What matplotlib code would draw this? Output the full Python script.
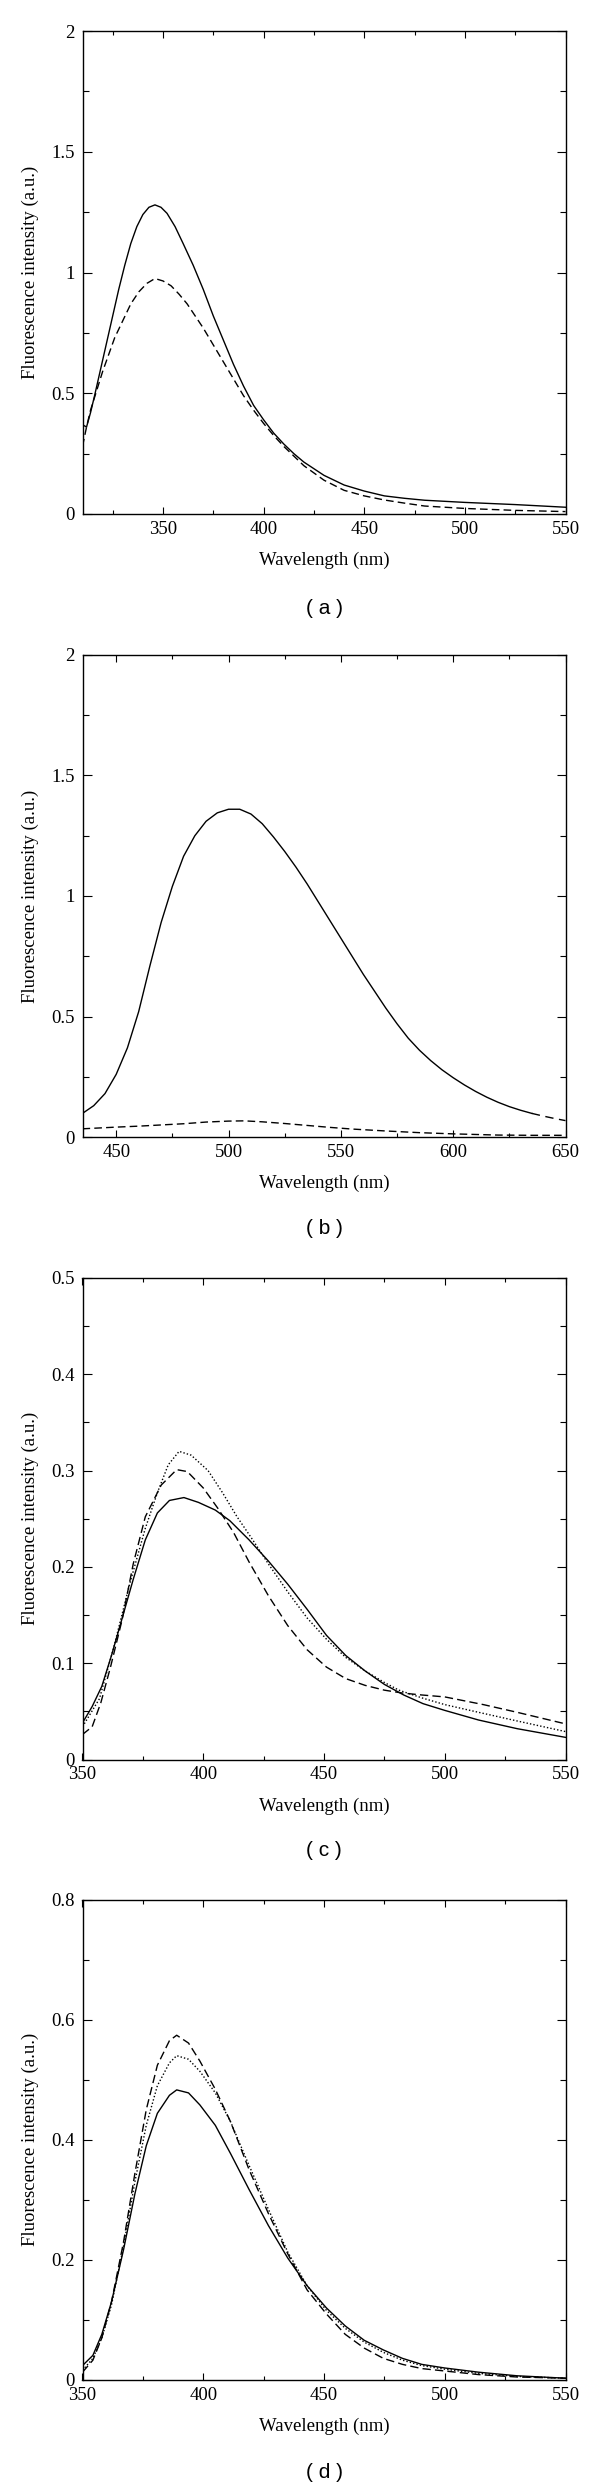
import numpy as np
import matplotlib
matplotlib.use('Agg')
import matplotlib.pyplot as plt
from matplotlib.ticker import MultipleLocator, FuncFormatter

# ---- panel (a) ----
wl_a_solid = [310, 312, 314, 316, 319, 322, 325, 328, 331, 334, 337, 340, 343, 346, 349,
              352, 356, 360, 365, 370, 375, 380, 385, 390, 395, 400, 405, 410, 415, 420,
              430, 440, 450, 460, 470, 480, 500, 525, 550]
fl_a_solid = [0.37, 0.36, 0.42, 0.49, 0.60, 0.71, 0.82, 0.93, 1.03, 1.12, 1.19, 1.24, 1.27, 1.28, 1.27,
              1.245, 1.19, 1.12, 1.03, 0.93, 0.82, 0.72, 0.62, 0.53, 0.45, 0.39, 0.335, 0.29, 0.25, 0.215,
              0.16, 0.12, 0.095, 0.075, 0.065, 0.057, 0.048, 0.039, 0.028]
wl_a_dash = [310, 312, 314, 317, 320, 323, 326, 330, 334, 338, 342, 346, 350, 354, 358,
             362, 366, 370, 375, 380, 385, 390, 395, 400, 405, 410, 415, 420, 430, 440,
             450, 460, 470, 480, 500, 525, 550]
fl_a_dash = [0.28, 0.36, 0.43, 0.51, 0.59, 0.66, 0.73, 0.80, 0.87, 0.92, 0.955, 0.975, 0.965, 0.945, 0.91,
             0.87, 0.82, 0.77, 0.70, 0.63, 0.56, 0.49, 0.43, 0.375, 0.325, 0.28, 0.24, 0.20, 0.14, 0.098,
             0.075, 0.058, 0.045, 0.033, 0.023, 0.015, 0.01]

# ---- panel (b) ----
wl_b_solid = [435, 440, 445, 450, 455, 460, 465, 470, 475, 480, 485, 490, 495, 500, 505,
              510, 515, 520, 525, 530, 535, 540, 545, 550, 555, 560, 565, 570, 575, 580,
              585, 590, 595, 600, 605, 610, 615, 620, 625, 630, 635, 640, 645, 650]
fl_b_solid = [0.098, 0.13, 0.18, 0.26, 0.37, 0.52, 0.71, 0.89, 1.04, 1.165, 1.25, 1.31, 1.345, 1.36, 1.36,
              1.34, 1.30, 1.245, 1.185, 1.12, 1.05, 0.975, 0.90, 0.825, 0.75, 0.675, 0.605, 0.535, 0.47, 0.41,
              0.36, 0.317, 0.279, 0.246, 0.216, 0.189, 0.165, 0.144, 0.126, 0.111, 0.098, 0.087, 0.077, 0.068]
wl_b_dash = [435, 450, 460, 470, 480, 490, 500, 507, 515, 525, 535, 545, 555, 570, 585,
             600, 620, 635, 650]
fl_b_dash = [0.034, 0.041, 0.045, 0.05, 0.055, 0.062, 0.066, 0.067, 0.063, 0.056, 0.048, 0.04, 0.033, 0.025, 0.018,
             0.013, 0.008, 0.007, 0.007]

# ---- panel (c) ----
wl_c_solid = [350, 354, 358, 362, 366, 371, 376, 381, 386, 392, 398, 405, 411, 419, 427,
              435, 443, 451, 459, 467, 475, 483, 491, 500, 514, 530, 550]
fl_c_solid = [0.038, 0.055, 0.076, 0.108, 0.143, 0.187, 0.228, 0.256, 0.269, 0.272, 0.267, 0.259, 0.248, 0.228, 0.206,
              0.182, 0.156, 0.129, 0.108, 0.092, 0.078, 0.067, 0.058, 0.051, 0.041, 0.032, 0.023]
wl_c_dot = [350, 357, 363, 369.5, 376, 381, 385.5, 390, 395, 402, 408, 414, 420.5, 427, 435,
            443, 451, 459, 467, 475, 481, 490.5, 500, 514, 530, 550]
fl_c_dot = [0.034, 0.063, 0.117, 0.182, 0.24, 0.277, 0.306, 0.32, 0.316, 0.30, 0.277, 0.252, 0.228, 0.203, 0.174,
            0.147, 0.125, 0.106, 0.092, 0.08, 0.072, 0.064, 0.057, 0.049, 0.04, 0.029]
wl_c_dash = [350, 354, 357.6, 361.6, 366.4, 371, 376, 382.6, 389, 393.4, 400, 406, 412.5, 419, 427,
             435, 443, 451, 459, 467, 475, 482.5, 490.5, 500, 506, 516, 530, 550]
fl_c_dash = [0.026, 0.034, 0.059, 0.096, 0.145, 0.203, 0.252, 0.285, 0.301, 0.299, 0.282, 0.261, 0.236, 0.205, 0.17,
             0.139, 0.114, 0.096, 0.084, 0.077, 0.072, 0.069, 0.067, 0.065, 0.062, 0.057, 0.049, 0.037]

# ---- panel (d) ----
wl_d = [350, 354.3, 358, 362, 367, 371.7, 376.4, 381, 386, 389, 393.9, 398.6, 405, 411.3, 419,
        427, 435, 443, 451, 458.8, 466.7, 474.6, 482.5, 490.5, 500, 514, 530, 550]
fl_d_solid = [0.024, 0.041, 0.076, 0.13, 0.217, 0.31, 0.39, 0.444, 0.474, 0.483, 0.478, 0.458, 0.424, 0.377, 0.317,
              0.257, 0.203, 0.157, 0.12, 0.09, 0.066, 0.05, 0.036, 0.026, 0.02, 0.013, 0.007, 0.003]
fl_d_dash = [0.013, 0.033, 0.07, 0.13, 0.23, 0.344, 0.45, 0.524, 0.565, 0.574, 0.561, 0.531, 0.484, 0.43, 0.35,
             0.277, 0.21, 0.15, 0.11, 0.076, 0.053, 0.036, 0.026, 0.019, 0.015, 0.009, 0.005, 0.003]
fl_d_dot = [0.016, 0.036, 0.07, 0.125, 0.223, 0.33, 0.424, 0.49, 0.528, 0.54, 0.534, 0.514, 0.478, 0.43, 0.357,
            0.284, 0.213, 0.157, 0.116, 0.086, 0.063, 0.046, 0.033, 0.024, 0.018, 0.011, 0.006, 0.003]

serif = 'Liberation Serif'
W, H = 600, 2490
fig = plt.figure(figsize=(W / 100, H / 100), dpi=100)

LW = 1.0
DASH = (5.5, 3)
DOT = (1, 1.5)


def make_axes(top, bottom, left=82.5, right=565.5):
    return fig.add_axes([left / W, 1 - bottom / H, (right - left) / W, (bottom - top) / H])


def style(ax, xlim, ylim, xmaj, xmin, ymaj, ymin, label, cap_y):
    ax.set_xlim(*xlim)
    ax.set_ylim(*ylim)
    ax.xaxis.set_major_locator(MultipleLocator(xmaj))
    ax.xaxis.set_minor_locator(MultipleLocator(xmin))
    ax.yaxis.set_major_locator(MultipleLocator(ymaj))
    ax.yaxis.set_minor_locator(MultipleLocator(ymin))
    ax.yaxis.set_major_formatter(FuncFormatter(lambda v, p: '%g' % v))
    ax.tick_params(which='both', direction='in', top=True, right=True, width=0.8, labelsize=13.5)
    ax.tick_params(axis='x', which='major', length=4.8, pad=5)
    ax.tick_params(axis='x', which='minor', length=2.6)
    ax.tick_params(axis='y', which='major', length=6.5, pad=5.5)
    ax.tick_params(axis='y', which='minor', length=4.1)
    for lab in ax.get_xticklabels() + ax.get_yticklabels():
        lab.set_fontfamily(serif)
    for s in ax.spines.values():
        s.set_linewidth(1.0)
    ax.set_xlabel('Wavelength (nm)', fontsize=13.5, family=serif, va='center')
    ax.xaxis.set_label_coords(0.5, -46.7 / 483)
    ax.set_ylabel('Fluorescence intensity (a.u.)', fontsize=13.5, family=serif, va='center')
    ax.yaxis.set_label_coords(-(82.5 - 30.6) / 483, 0.5)
    fig.text(324 / W, 1 - cap_y / H, '( %s )' % label, ha='center', va='center',
             fontsize=15, family='Liberation Sans')


# (a)
ax = make_axes(31, 514)
ax.plot(wl_a_solid, fl_a_solid, color='black', lw=LW)
ax.plot(wl_a_dash, fl_a_dash, color='black', lw=LW, dashes=DASH)
style(ax, (310, 550), (0, 2), 50, 25, 0.5, 0.25, 'a', 609)

# (b)
ax = make_axes(655, 1137)
wb = np.array(wl_b_solid)
fb = np.array(fl_b_solid)
ax.plot(wb[wb <= 635], fb[wb <= 635], color='black', lw=LW)
ax.plot(wb[wb >= 635], fb[wb >= 635], color='black', lw=LW, dashes=(6, 4))
ax.plot(wl_b_dash, fl_b_dash, color='black', lw=LW, dashes=DASH)
style(ax, (435, 650), (0, 2), 50, 25, 0.5, 0.25, 'b', 1229)

# (c)
ax = make_axes(1278, 1759.5)
ax.plot(wl_c_solid, fl_c_solid, color='black', lw=LW)
ax.plot(wl_c_dot, fl_c_dot, color='black', lw=LW, dashes=DOT)
ax.plot(wl_c_dash, fl_c_dash, color='black', lw=LW, dashes=(6, 3))
style(ax, (350, 550), (0, 0.5), 50, 25, 0.1, 0.05, 'c', 1851)

# (d)
ax = make_axes(1899.5, 2380)
ax.plot(wl_d, fl_d_solid, color='black', lw=LW)
ax.plot(wl_d, fl_d_dot, color='black', lw=LW, dashes=DOT)
ax.plot(wl_d, fl_d_dash, color='black', lw=LW, dashes=(6, 3))
style(ax, (350, 550), (0, 0.8), 50, 25, 0.2, 0.1, 'd', 2472.5)

fig.savefig('out.png', dpi=100)
